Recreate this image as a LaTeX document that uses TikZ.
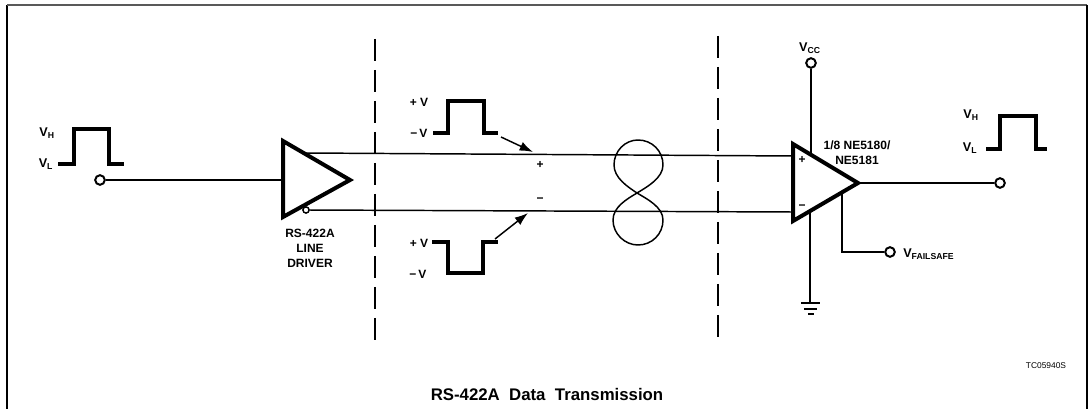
\documentclass[tikz,border=0pt]{standalone}
\usepackage{fontspec}
\setmainfont{Liberation Sans}
\usetikzlibrary{arrows.meta}
\tikzset{
	wire/.style={line width=1.1pt},
	pulse/.style={line width=2.5pt,line join=miter},
	amp/.style={line width=3pt,line join=miter},
	cut/.style={line width=1.3pt,dash pattern=on 16.5pt off 6.75pt},
	term/.style={circle,draw,fill=white,line width=1.5pt,minimum size=7.2pt,inner sep=0pt},
	bubble/.style={circle,draw,fill=white,line width=1pt,minimum size=4.5pt,inner sep=0pt},
	lbl/.style={inner sep=0pt,font=\bfseries\fontsize{9}{11.25}\selectfont,align=center},
}
\newcommand{\volt}[2]{{\fontsize{9.5}{11}\selectfont #1}\textsubscript{\fontsize{6.5}{8}\selectfont #2}}
\begin{document}
\begin{tikzpicture}[x=0.75pt,y=0.75pt,yscale=-1,xscale=1]
	\useasboundingbox (0,0) rectangle (1088,409);
	%Frame
	\draw [line width=1.4pt] (7,409) -- (7,5);
	\draw [line width=0.9pt,black!65] (7,5) -- (1087,5);
	\draw [line width=1.6pt] (1087,5) -- (1087,409);
	%Cut lines
	\draw [cut] (375,39) -- (375,343);
	\draw [cut] (718,36) -- (718,346);
	%Terminals
	\node [term] (inT) at (100,180) {};
	\node [term] (outT) at (1000,183) {};
	\node [term] (vccT) at (811,63) {};
	\node [term] (failT) at (890,252) {};
	%Driver
	\coordinate (drvA) at (283,141);
	\coordinate (drvB) at (283,217);
	\coordinate (drvO) at (350,180);
	\coordinate (drvIn) at (283,180);
	\coordinate (drvP) at (305,153);
	\node [bubble] (drvN) at (306,210) {};
	%Receiver
	\coordinate (rcvA) at (793,144);
	\coordinate (rcvB) at (793,221);
	\coordinate (rcvO) at (858,183);
	\coordinate (rcvP) at (793,156);
	\coordinate (rcvN) at (793,212);
	\coordinate (rcvV) at (811,153);
	\coordinate (rcvG) at (810,212);
	\coordinate (rcvF) at (842,192);
	\coordinate (gnd) at (810,303);
	\coordinate (failK) at (842,252);
	%Wires
	\draw [wire] (inT) -- (drvIn);
	\draw [wire] (drvP) -- (rcvP);
	\draw [wire] (drvN) -- (rcvN);
	\draw [wire] (rcvO) -- (outT);
	\draw [wire] (vccT) -- (rcvV);
	\draw [wire] (rcvG) -- (gnd);
	\draw [wire] (rcvF) -- (failK) -- (failT);
	\draw [amp,fill=white] (drvA) -- (drvB) -- (drvO) -- cycle;
	\draw [amp,fill=white] (rcvA) -- (rcvB) -- (rcvO) -- cycle;
	\node [bubble] at (drvN) {};
	%Ground
	\draw [line width=1.4pt] (801,303) -- (820,303);
	\draw [line width=1.4pt] (804,309) -- (817,309);
	\draw [line width=1.4pt] (808,314) -- (814,314);
	%Twist
	\draw [wire] (637,193) .. controls (628,187) and (614,178) .. (614,165) .. controls (614,151) and (625,140) .. (638,140) .. controls (652,140) and (663,151) .. (663,165) .. controls (663,178) and (647,187) .. (637,193) .. controls (627,199) and (613,207) .. (613,220) .. controls (613,234) and (625,245) .. (638,245) .. controls (652,245) and (663,234) .. (663,220) .. controls (663,207) and (647,199) .. (637,193) -- cycle;
	%Pulses
	\draw [pulse] (58,164) -- (74,164) -- (74,129) -- (109,129) -- (109,164) -- (124,164);
	\draw [pulse] (433,133) -- (448,133) -- (448,101) -- (484,101) -- (484,133) -- (498,133);
	\draw [pulse] (432,242) -- (448,242) -- (448,273) -- (483,273) -- (483,242) -- (498,242);
	\draw [pulse] (986,149) -- (1000,149) -- (1000,116) -- (1036,116) -- (1036,149) -- (1047,149);
	%Arrows
	\coordinate (arrA) at (501,137);
	\coordinate (arrB) at (533,152);
	\coordinate (arrC) at (495,239);
	\coordinate (arrD) at (528,213);
	\draw [wire,-{Latex[length=10pt,width=7pt]}] (arrA) -- (arrB);
	\draw [wire,-{Latex[length=10pt,width=7pt]}] (arrC) -- (arrD);
	%Labels
	\node [lbl] (vhA) at (47,133) {\volt{V}{H}};
	\node [lbl] (vlA) at (46,164) {\volt{V}{L}};
	\node [lbl] (vhB) at (971,115) {\volt{V}{H}};
	\node [lbl] (vlB) at (970,148) {\volt{V}{L}};
	\node [lbl] (vcc) at (810,48) {\volt{V}{CC}};
	\node [lbl,anchor=west] (vfail) at (903,254) {\volt{V}{FAILSAFE}};
	\node [lbl] (drvL) at (310,248) {RS-422A\\LINE\\DRIVER};
	\node [lbl] (rcvL) at (857,153) {1/8 NE5180/\\NE5181};
	\node [lbl] (pvA) at (419,102) {+ V};
	\node [lbl] (mvA) at (419,133) {\textminus\,V};
	\node [lbl] (pvB) at (419,243) {+ V};
	\node [lbl] (mvB) at (418,274) {\textminus\,V};
	\node [lbl] (plusW) at (540,165) {+};
	\node [lbl] (minusW) at (540,200) {\textminus};
	\node [lbl] (plusR) at (802,160) {+};
	\node [lbl] (minusR) at (802,207) {\textminus};
	\node [inner sep=0pt,font=\fontsize{6.3}{8}\selectfont] (code) at (1046,366) {TC05940S};
	\node [inner sep=0pt,font=\bfseries\fontsize{12.6}{15}\selectfont] (title) at (547,394) {RS-422A\ \ Data\ \ Transmission};
\end{tikzpicture}
\end{document}
